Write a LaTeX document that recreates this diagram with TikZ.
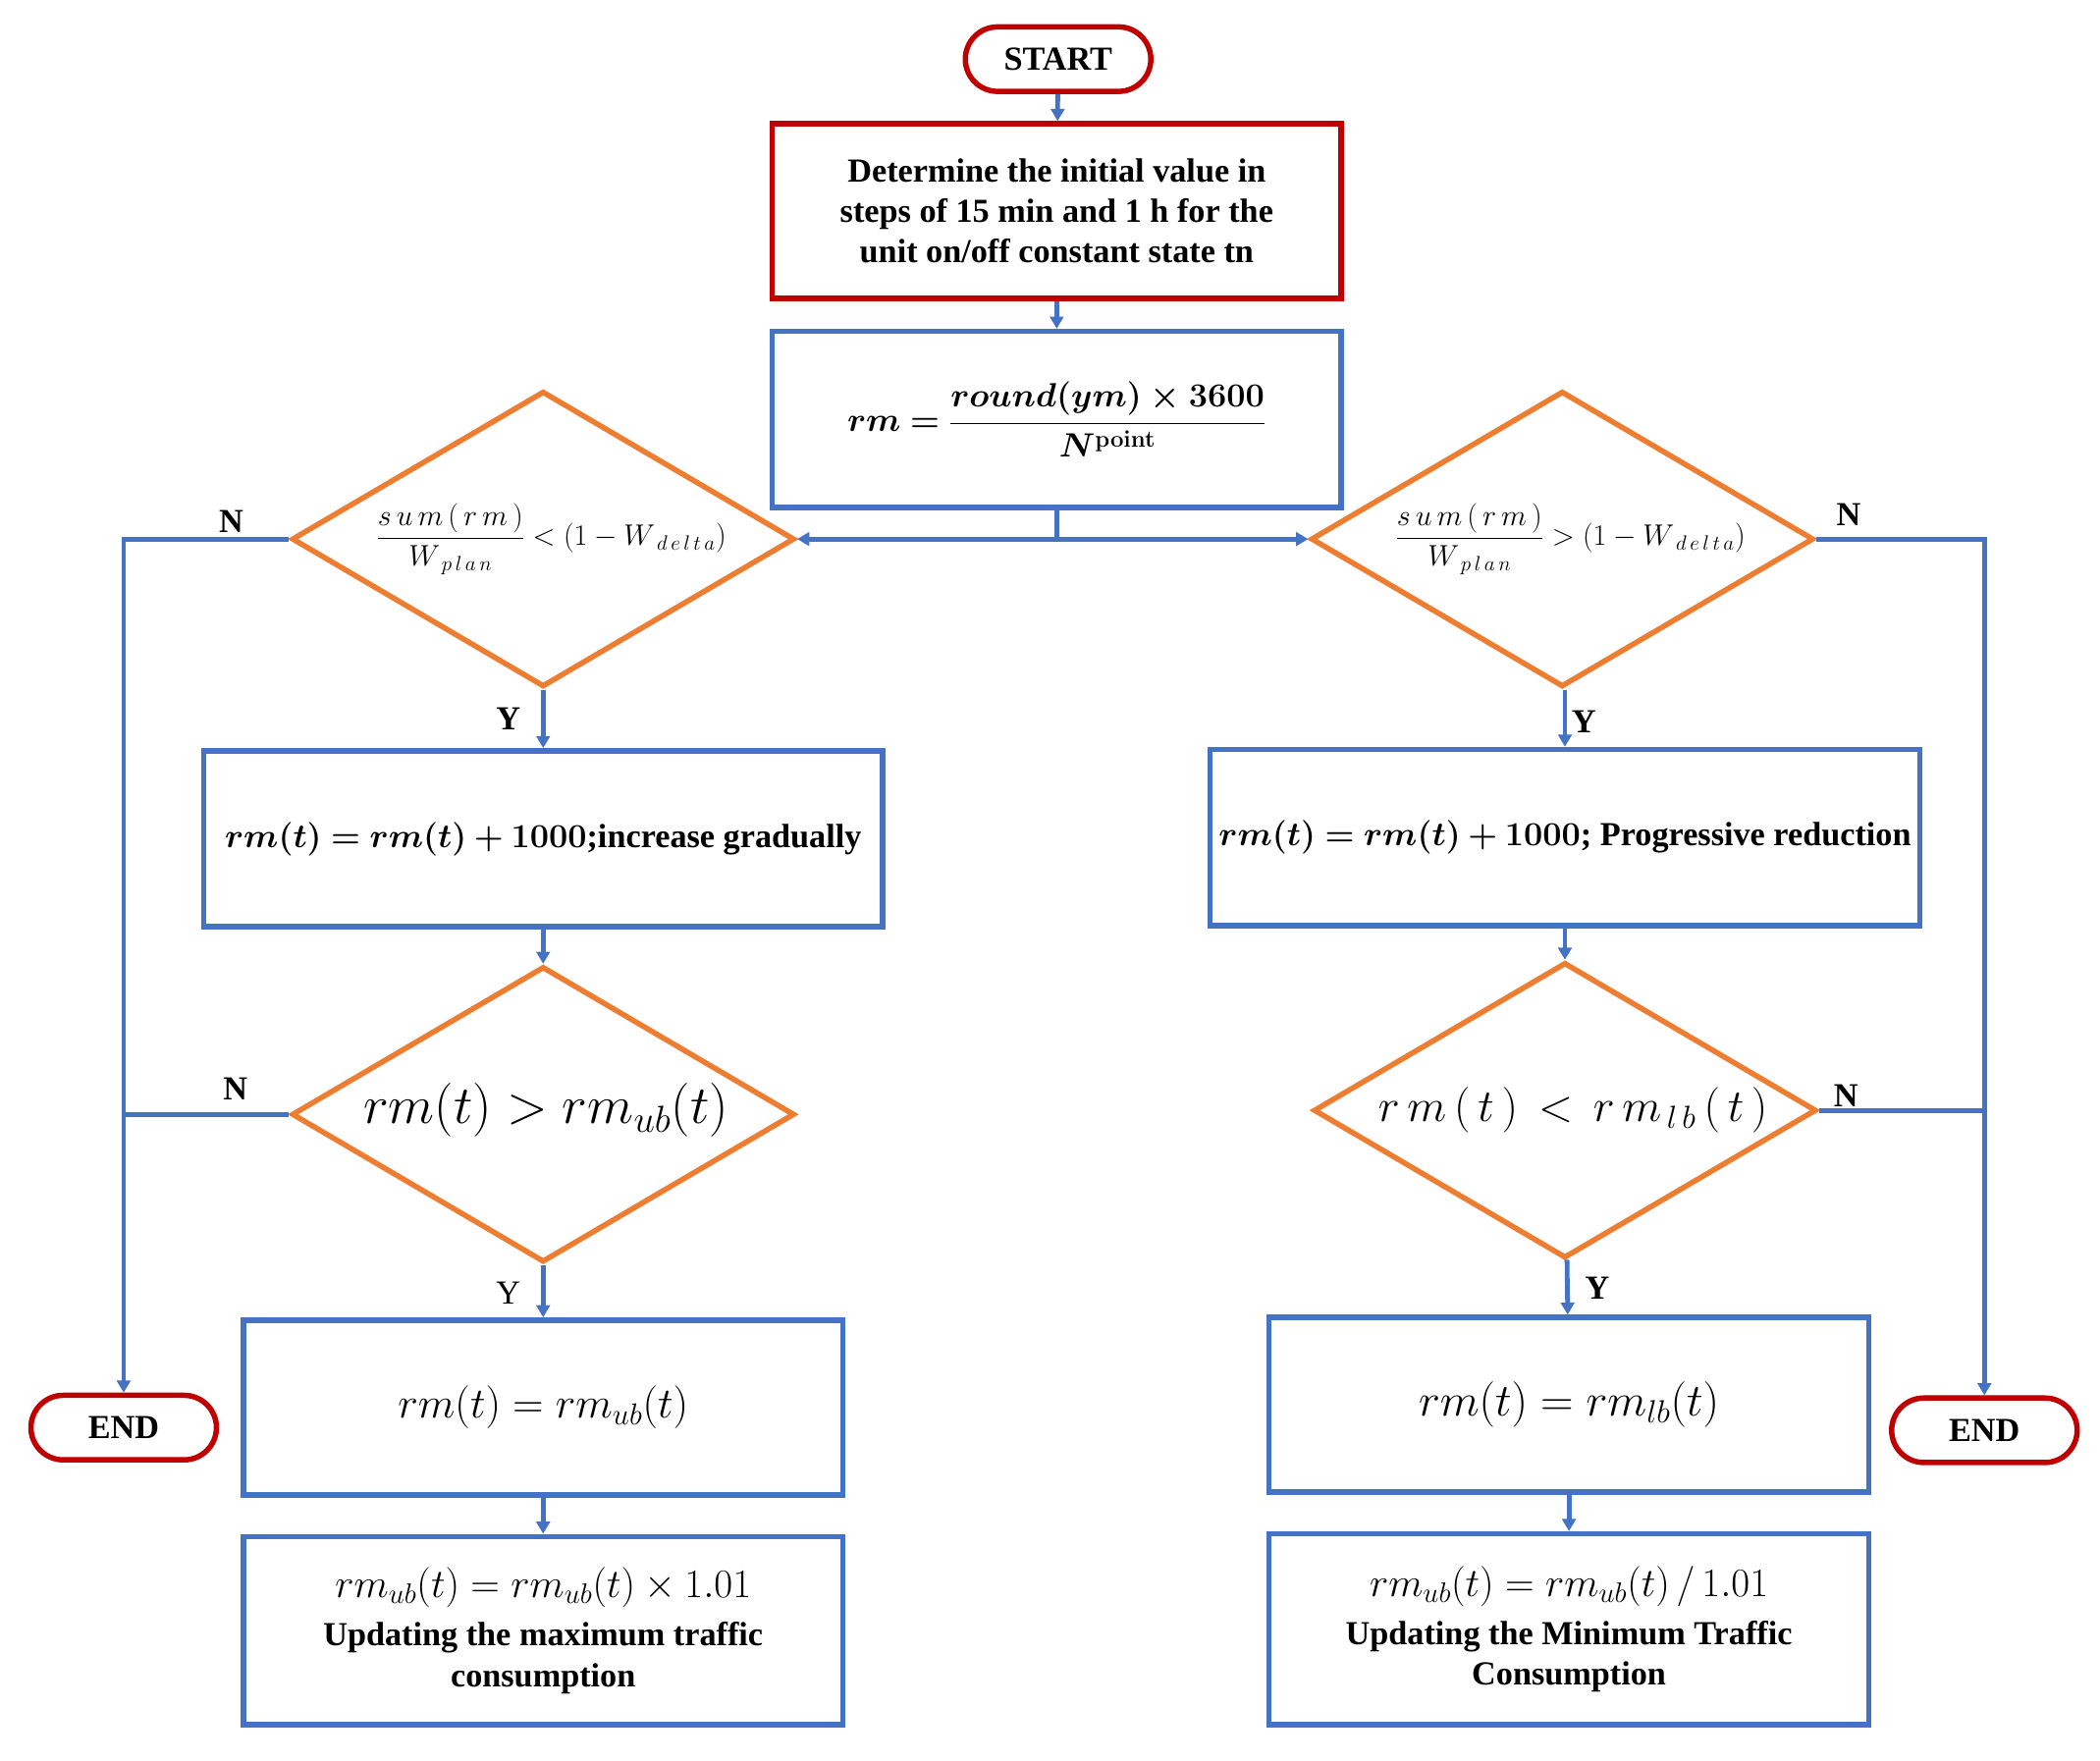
\RequirePackage{fix-cm}
\documentclass[tikz,border=0pt]{standalone}
\usepackage{fontspec}
\setmainfont{Liberation Serif}
\usepackage{amsmath,bm}
\usetikzlibrary{shapes.geometric,arrows.meta}
\definecolor{myred}{HTML}{C00000}
\definecolor{myblue}{HTML}{4472C4}
\definecolor{myorange}{HTML}{ED7D31}
\begin{document}
\begin{tikzpicture}[x=1pt,y=-1pt,
  font=\fontsize{25}{30}\selectfont\bfseries,
  term/.style={draw=myred,line width=4pt,rounded corners=24pt,minimum width=138pt,minimum height=48pt,inner sep=0pt},
  box/.style={draw=myblue,line width=4pt,inner sep=0pt,align=center},
  redbox/.style={draw=myred,line width=4pt,inner sep=0pt,align=center},
  dia/.style={draw=myorange,line width=4pt,diamond,inner sep=0pt,minimum width=374pt,minimum height=220pt},
  con/.style={draw=myblue,line width=3.5pt,-{Triangle[length=9pt,width=10pt]}},
  lin/.style={draw=myblue,line width=3.5pt},
  lab/.style={font=\fontsize{25}{30}\selectfont\bfseries}]
\useasboundingbox (0,0) rectangle (1562,1310);
\node[term] (start) at (787,44) {START};
\node[redbox,minimum width=423pt,minimum height=130pt] (b1) at (786,157) {Determine the initial value in\\steps of 15 min and 1 h for the\\unit on/off constant state tn};
\node[box,minimum width=423pt,minimum height=131pt] (b2) at (786,312) {$\bm{rm=\dfrac{round(ym)\times 3600}{N^{\mathbf{point}}}}$};
\node[dia] (dL) at (404,401) {};
\node[font=\fontsize{22}{26}\selectfont] at (410,401) {$\dfrac{s\,u\,m\,(\,r\,m\,)}{W_{\;p\,l\,a\,n}}<(1-W_{\;d\,e\,l\,t\,a})$};
\node[dia] (dR) at (1162,401) {};
\node[font=\fontsize{22}{26}\selectfont] at (1168,401) {$\dfrac{s\,u\,m\,(\,r\,m\,)}{W_{\;p\,l\,a\,n}}>(1-W_{\;d\,e\,l\,t\,a})$};
\coordinate (j) at (786,401);
\node[box,minimum width=505pt,minimum height=131pt] (L1) at (404,624) {$\bm{rm(t)=rm(t)+1000}$;increase gradually};
\node[box,minimum width=528pt,minimum height=131pt] (R1) at (1164,623) {$\bm{rm(t)=rm(t)+1000}$; Progressive reduction};
\node[dia] (dL2) at (404,829) {};
\node[font=\fontsize{40}{44}\selectfont] at (406,826) {$rm(t)>rm_{ub}(t)$};
\node[dia] (dR2) at (1164,826) {};
\node[font=\fontsize{34}{40}\selectfont] at (1170,826) {$r\,m\,(\,t\,)\,<\,r\,m_{\,l\,b}\,(\,t\,)$};
\node[box,minimum width=446pt,minimum height=130pt] (L2) at (404,1047) {\mdseries\fontsize{32}{36}\selectfont$rm(t)=rm_{ub}(t)$};
\node[box,minimum width=446pt,minimum height=130pt] (R2) at (1167,1045) {\mdseries\fontsize{34}{38}\selectfont$rm(t)=rm_{lb}(t)$};
\node[box,minimum width=446pt,minimum height=140pt] (L3) at (404,1213) {{\mdseries\fontsize{30}{34}\selectfont$rm_{ub}(t)=rm_{ub}(t)\times 1.01$}\\[6pt]Updating the maximum traffic\\consumption};
\node[box,minimum width=446pt,minimum height=142pt] (R3) at (1167,1212) {{\mdseries\fontsize{30}{34}\selectfont$rm_{ub}(t)=rm_{ub}(t)\,/\,1.01$}\\[6pt]Updating the Minimum Traffic\\Consumption};
\node[term] (endL) at (92,1062) {END};
\node[term] (endR) at (1476,1064) {END};
\draw[con] (start) -- (b1);
\draw[con] (b1) -- (b2);
\draw[lin] (b2.south) -- (j);
\draw[con] (j) -- (dL.east);
\draw[con] (j) -- (dR.west);
\draw[con] (dL.south) -- (L1.north);
\draw[con] (dR.south -| R1.north) -- (R1.north);
\draw[con] (L1) -- (dL2);
\draw[con] (R1) -- (dR2);
\draw[con] (dL2) -- (L2);
\draw[con] (dR2) -- (R2);
\draw[con] (L2) -- (L3);
\draw[con] (R2) -- (R3);
\draw[con] (dL.west) -| (endL.north);
\draw[lin] (dL2.west) -- (dL2.west -| endL.north);
\draw[con] (dR.east) -| (endR.north);
\draw[lin] (dR2.east) -- (dR2.east -| endR.north);
\node[lab] at (172,388) {N};
\node[lab] at (175,810) {N};
\node[lab] at (1375,383) {N};
\node[lab] at (1373,815) {N};
\node[lab] at (378,535) {Y};
\node[lab] at (1178,537) {Y};
\node[font=\fontsize{25}{30}\selectfont] at (378,962) {Y};
\node[lab] at (1188,958) {Y};
\end{tikzpicture}
\end{document}
